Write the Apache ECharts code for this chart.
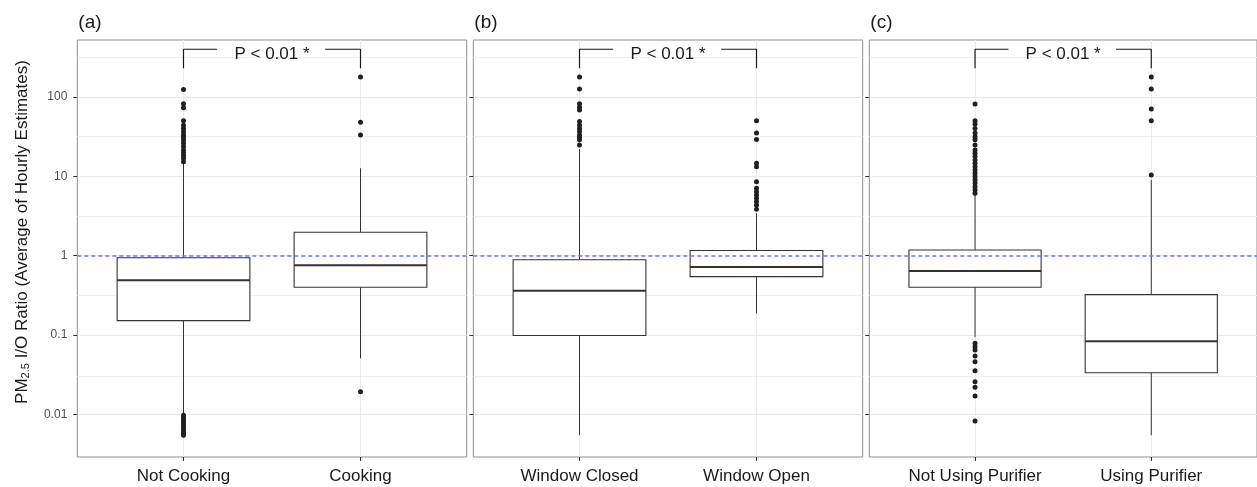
<!DOCTYPE html>
<html><head><meta charset="utf-8">
<script src="https://cdn.jsdelivr.net/npm/echarts@6/dist/echarts.min.js"></script>
<style>html,body{margin:0;padding:0;background:#fff}#c{width:1257px;height:487px}</style>
</head><body><div id="c"></div>
<script>
// ---- data ----
const panelTitles = ['(a)', '(b)', '(c)'];
const catsA = ['Not Cooking', 'Cooking'];
const catsB = ['Window Closed', 'Window Open'];
const catsC = ['Not Using Purifier', 'Using Purifier'];
// [lowerWhisker, Q1, median, Q3, upperWhisker]
const boxNotCooking = [0.0102, 0.152, 0.49, 0.94, 14.5];
const boxCooking = [0.051, 0.40, 0.757, 1.97, 12.6];
const boxWindowClosed = [0.0055, 0.099, 0.363, 0.89, 22];
const boxWindowOpen = [0.188, 0.544, 0.72, 1.16, 3.42];
const boxNotPurifier = [0.094, 0.40, 0.64, 1.18, 5.8];
const boxPurifier = [0.0055, 0.0336, 0.0835, 0.323, 9.0];
const outNotCooking = [124, 82, 73, 50, 44, 40, 36.4, 33, 30.9, 28.6, 26, 23.6, 21.4, 19.8, 18.3, 16.8, 15.2,
  0.0098, 0.0093, 0.0088, 0.0083, 0.0078, 0.0073, 0.0068, 0.0064, 0.006, 0.0057, 0.0055];
const outCooking = [177, 48, 33, 0.0194];
const outWindowClosed = [177, 125, 82, 74, 68, 49, 44, 40, 36.5, 33, 31, 28.7, 24.8];
const outWindowOpen = [50, 35, 29, 14.6, 13.2, 8.55, 7.06, 6.4, 5.8, 5.3, 4.8, 4.35, 3.84];
const outNotPurifier = [81, 50, 45.6, 40, 35, 31.5, 28.7, 24.8, 21.4, 19.5, 17.7, 16, 14.6, 13.2, 12, 10.9, 9.9, 9, 8.2, 7.4, 6.7, 6.1,
  0.079, 0.0714, 0.065, 0.0545, 0.0462, 0.0356, 0.0259, 0.022, 0.0171, 0.0083];
const outPurifier = [177, 125, 70, 50, 10.4];
const pLabel = 'P < 0.01 *';
const refLine = 1;
const yTicks = [0.01, 0.1, 1, 10, 100];
const yMinor = [0.003162, 0.03162, 0.3162, 3.162, 31.62, 316.2];

// ---- layout ----
const panels = [
  {title: panelTitles[0], cats: catsA, boxes: [boxNotCooking, boxCooking], outs: [outNotCooking, outCooking], left: 77.3},
  {title: panelTitles[1], cats: catsB, boxes: [boxWindowClosed, boxWindowOpen], outs: [outWindowClosed, outWindowOpen], left: 473.3},
  {title: panelTitles[2], cats: catsC, boxes: [boxNotPurifier, boxPurifier], outs: [outNotPurifier, outPurifier], left: 869.3}
];
const TOP = 40, HEIGHT = 417, WIDTH = 389.4;
const YMIN = 0.00292, YMAX = 519;
const FONT = '"Liberation Sans", Arial, sans-serif';
const DARK = '#333333';

function renderBox(params, api) {
  const x = api.value(0), lo = api.value(1), q1 = api.value(2), med = api.value(3), q3 = api.value(4), hi = api.value(5);
  const hw = 0.375;
  const bl = api.coord([x - hw, q1]);
  const tr = api.coord([x + hw, q3]);
  const mL = api.coord([x - hw, med]);
  const mR = api.coord([x + hw, med]);
  const pLo = api.coord([x, lo]), pHi = api.coord([x, hi]);
  const pQ1 = api.coord([x, q1]), pQ3 = api.coord([x, q3]);
  return {type: 'group', children: [
    {type: 'line', shape: {x1: pHi[0], y1: pHi[1], x2: pQ3[0], y2: pQ3[1]}, style: {stroke: DARK, lineWidth: 1}},
    {type: 'line', shape: {x1: pLo[0], y1: pLo[1], x2: pQ1[0], y2: pQ1[1]}, style: {stroke: DARK, lineWidth: 1}},
    {type: 'rect', shape: {x: bl[0], y: tr[1], width: tr[0] - bl[0], height: bl[1] - tr[1]}, style: {fill: '#fff', stroke: DARK, lineWidth: 1.1}},
    {type: 'line', shape: {x1: mL[0], y1: mL[1], x2: mR[0], y2: mR[1]}, style: {stroke: DARK, lineWidth: 2}}
  ]};
}

const grid = [], xAxis = [], yAxis = [], series = [], title = [];
panels.forEach((p, i) => {
  grid.push({left: p.left, top: TOP, width: WIDTH, height: HEIGHT, show: true, borderColor: '#8f8f8f', borderWidth: 1, backgroundColor: '#fff', containLabel: false});
  title.push({text: p.title, left: p.left + 1, top: 13, padding: 0, textStyle: {fontFamily: FONT, fontSize: 19, fontWeight: 'normal', color: '#1a1a1a'}});
  xAxis.push({
    type: 'value', gridIndex: i, min: -0.6, max: 1.6, position: 'bottom',
    axisLine: {show: false, onZero: false},
    axisTick: {show: true, customValues: [0, 1], length: 4, lineStyle: {color: DARK}},
    axisLabel: {show: true, customValues: [0, 1], margin: 11, fontFamily: FONT, fontSize: 17, color: '#1a1a1a',
      formatter: (v) => p.cats[Math.round(v)]},
    splitLine: {show: false}
  });
  yAxis.push({
    type: 'log', logBase: 10, gridIndex: i, min: YMIN, max: YMAX, position: 'left',
    axisLine: {show: false, onZero: false},
    axisTick: {show: true, length: 4, customValues: yTicks, lineStyle: {color: DARK}},
    axisLabel: {show: i === 0, showMinLabel: false, showMaxLabel: false, margin: 10, fontFamily: FONT, fontSize: 12, color: '#4d4d4d',
      formatter: (v) => String(+(+v).toPrecision(6))},
    splitLine: {show: false}
  });
  // grid lines (minor + major y, major x)
  series.push({
    type: 'line', xAxisIndex: i, yAxisIndex: i, data: [], silent: true, z: 0,
    markLine: {silent: true, symbol: ['none', 'none'], z: 0, label: {show: false}, animation: false,
      lineStyle: {color: '#f0f0f0', width: 1, type: 'solid'},
      data: yMinor.map(v => ({yAxis: v}))
        .concat(yTicks.map(v => ({yAxis: v, lineStyle: {color: '#e8e8e8'}})))
        .concat([{xAxis: 0, lineStyle: {color: '#ebebeb'}}, {xAxis: 1, lineStyle: {color: '#ebebeb'}}])}
  });
  series.push({
    type: 'custom', xAxisIndex: i, yAxisIndex: i, z: 2, silent: true,
    renderItem: renderBox,
    encode: {x: 0, y: [1, 2, 3, 4, 5]},
    data: p.boxes.map((b, k) => [k].concat(b))
  });
  const pts = [];
  p.outs.forEach((arr, k) => arr.forEach(v => pts.push([k, v])));
  series.push({
    type: 'scatter', xAxisIndex: i, yAxisIndex: i, z: 3, silent: true,
    symbol: 'circle', symbolSize: 5, itemStyle: {color: '#1f1f1f', opacity: 1},
    data: pts
  });
  // dashed reference line at ratio 1
  series.push({
    type: 'line', xAxisIndex: i, yAxisIndex: i, data: [], silent: true, z: 4,
    markLine: {silent: true, symbol: ['none', 'none'], z: 4, label: {show: false}, animation: false,
      lineStyle: {color: '#7272ff', width: 1.5, type: [4, 3]},
      data: [{yAxis: refLine}]}
  });
  // significance bracket
  const bLow = 229, bHigh = 397;
  series.push({type: 'line', xAxisIndex: i, yAxisIndex: i, z: 4, silent: true, symbol: 'none',
    lineStyle: {color: '#1a1a1a', width: 1.2}, data: [[0, bLow], [0, bHigh], [0.19, bHigh]]});
  series.push({type: 'line', xAxisIndex: i, yAxisIndex: i, z: 4, silent: true, symbol: 'none',
    lineStyle: {color: '#1a1a1a', width: 1.2}, data: [[0.8, bHigh], [1, bHigh], [1, bLow]]});
  series.push({type: 'scatter', xAxisIndex: i, yAxisIndex: i, z: 4, silent: true, symbolSize: 0.01,
    itemStyle: {color: 'rgba(0,0,0,0)', opacity: 1},
    label: {show: true, position: 'inside', formatter: pLabel, fontFamily: FONT, fontSize: 17, color: '#1a1a1a', textBorderWidth: 0, opacity: 1},
    data: [[0.5, 341]]});
});

const chart = echarts.init(document.getElementById('c'), null, {renderer: 'canvas'});
chart.setOption({
  animation: false,
  backgroundColor: '#fff',
  title, grid, xAxis, yAxis, series,
  graphic: [{
    type: 'text', x: 21, y: 232, rotation: Math.PI / 2, silent: true,
    style: {
      text: '{a|PM}{s|2.5}{a| I/O Ratio (Average of Hourly Estimates)}',
      align: 'center', verticalAlign: 'middle', fill: '#1a1a1a',
      rich: {
        a: {fontFamily: FONT, fontSize: 17, lineHeight: 20, fill: '#1a1a1a', verticalAlign: 'bottom'},
        s: {fontFamily: FONT, fontSize: 11, lineHeight: 14, fill: '#1a1a1a', verticalAlign: 'bottom'}
      }
    }
  }]
});
</script>
</body></html>
